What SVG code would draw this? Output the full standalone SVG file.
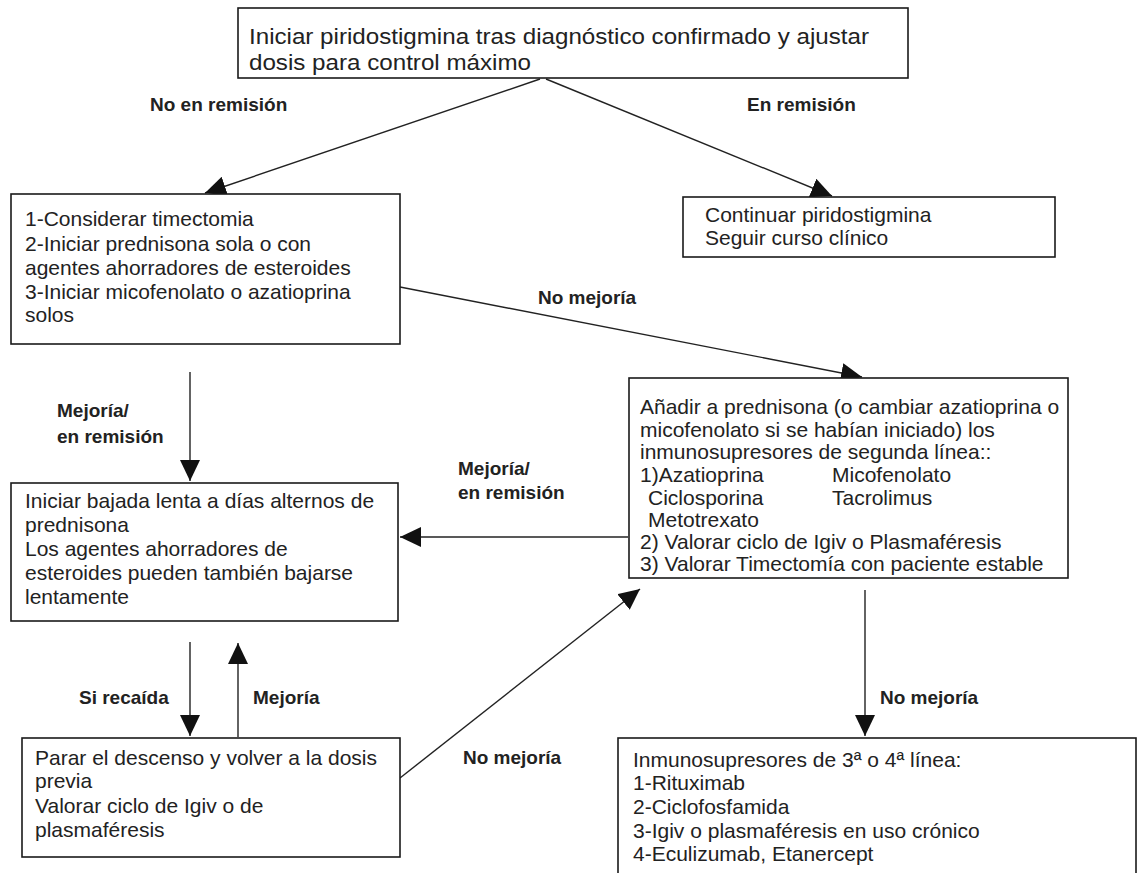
<svg xmlns="http://www.w3.org/2000/svg" width="1140" height="873" viewBox="0 0 1140 873">
<style>
.box{fill:#fff;stroke:#1a1a1a;stroke-width:1.6}
.t{font-family:"Liberation Sans",Arial,sans-serif;font-size:21px;fill:#222}
.tt{font-family:"Liberation Sans",Arial,sans-serif;font-size:22px;fill:#222}
.lb{font-family:"Liberation Sans",Arial,sans-serif;font-size:19px;font-weight:bold;fill:#222}
.c{stroke:#222;stroke-width:1.4;fill:none;marker-end:url(#ah)}
</style>
<defs>
<marker id="ah" markerUnits="userSpaceOnUse" markerWidth="22" markerHeight="20" refX="21" refY="10" orient="auto">
<path d="M0,0 L21,10 L0,20 z" fill="#111"/>
</marker>
</defs>
<rect width="1140" height="873" fill="#fff"/>
<g id="connectors">
<line class="c" x1="540" y1="79" x2="205" y2="193"/>
<line class="c" x1="546" y1="79" x2="832" y2="196"/>
<line class="c" x1="400" y1="287" x2="862" y2="377"/>
<line class="c" x1="190" y1="372" x2="190" y2="481"/>
<line class="c" x1="628" y1="537" x2="400" y2="537"/>
<line class="c" x1="190" y1="642" x2="190" y2="736"/>
<line class="c" x1="238" y1="737" x2="238" y2="643"/>
<line class="c" x1="400" y1="778" x2="640" y2="589"/>
<line class="c" x1="865" y1="590" x2="865" y2="736"/>
<text class="lb" x="150" y="111">No en remisión</text>
<text class="lb" x="747" y="111">En remisión</text>
<text class="lb" x="538" y="304">No mejoría</text>
<text class="lb" x="57" y="417">Mejoría/</text>
<text class="lb" x="57" y="443">en remisión</text>
<text class="lb" x="458" y="475">Mejoría/</text>
<text class="lb" x="458" y="499">en remisión</text>
<text class="lb" x="79" y="704">Si recaída</text>
<text class="lb" x="253" y="704">Mejoría</text>
<text class="lb" x="463" y="764">No mejoría</text>
<text class="lb" x="880" y="704">No mejoría</text>
</g>
<g id="n1">
<rect class="box" x="238" y="8" width="670" height="70"/>
<text class="tt" x="249" y="44" textLength="620" lengthAdjust="spacingAndGlyphs">Iniciar piridostigmina tras diagnóstico confirmado y ajustar</text>
<text class="tt" x="249" y="70" textLength="282" lengthAdjust="spacingAndGlyphs">dosis para control máximo</text>
</g>
<g id="n2">
<rect class="box" x="11" y="194" width="389" height="150"/>
<text class="t" x="25" y="226">1-Considerar timectomia</text>
<text class="t" x="25" y="251">2-Iniciar prednisona sola o con</text>
<text class="t" x="25" y="275">agentes ahorradores de esteroides</text>
<text class="t" x="25" y="299">3-Iniciar micofenolato o azatioprina</text>
<text class="t" x="25" y="322">solos</text>
</g>
<g id="n3">
<rect class="box" x="683" y="197" width="372" height="60"/>
<text class="t" x="705" y="222">Continuar piridostigmina</text>
<text class="t" x="705" y="245">Seguir curso clínico</text>
</g>
<g id="n4">
<rect class="box" x="629" y="378" width="439" height="200"/>
<text class="t" x="640" y="414">Añadir a prednisona (o cambiar azatioprina o</text>
<text class="t" x="640" y="437">micofenolato si se habían iniciado) los</text>
<text class="t" x="640" y="459">inmunosupresores de segunda línea::</text>
<text class="t" x="640" y="482">1)Azatioprina</text>
<text class="t" x="832" y="482">Micofenolato</text>
<text class="t" x="648" y="505">Ciclosporina</text>
<text class="t" x="832" y="505">Tacrolimus</text>
<text class="t" x="648" y="527">Metotrexato</text>
<text class="t" x="640" y="549">2) Valorar ciclo de Igiv o Plasmaféresis</text>
<text class="t" x="640" y="571">3) Valorar Timectomía con paciente estable</text>
</g>
<g id="n5">
<rect class="box" x="11" y="483" width="387" height="138"/>
<text class="t" x="25" y="508">Iniciar bajada lenta a días alternos de</text>
<text class="t" x="25" y="532">prednisona</text>
<text class="t" x="25" y="556">Los agentes ahorradores de</text>
<text class="t" x="25" y="580">esteroides pueden también bajarse</text>
<text class="t" x="25" y="604">lentamente</text>
</g>
<g id="n6">
<rect class="box" x="22" y="738" width="378" height="119"/>
<text class="t" x="35" y="765">Parar el descenso y volver a la dosis</text>
<text class="t" x="35" y="788">previa</text>
<text class="t" x="35" y="813">Valorar ciclo de Igiv o de</text>
<text class="t" x="35" y="837">plasmaféresis</text>
</g>
<g id="n7">
<rect class="box" x="618" y="738" width="518" height="145"/>
<text class="t" x="633" y="767">Inmunosupresores de 3ª o 4ª línea:</text>
<text class="t" x="633" y="790">1-Rituximab</text>
<text class="t" x="633" y="814">2-Ciclofosfamida</text>
<text class="t" x="633" y="838">3-Igiv o plasmaféresis en uso crónico</text>
<text class="t" x="633" y="861">4-Eculizumab, Etanercept</text>
</g>
</svg>
